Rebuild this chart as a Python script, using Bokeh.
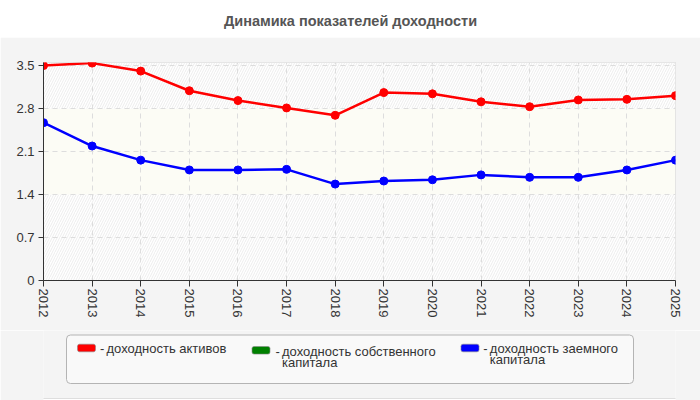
from bokeh.plotting import figure
from bokeh.layouts import column
from bokeh.models import Range1d, FixedTicker, BoxAnnotation
from bokeh.core.properties import value
from bokeh.embed import file_html
from bokeh.resources import INLINE

# --- data -------------------------------------------------------------
years = [2012, 2013, 2014, 2015, 2016, 2017, 2018,
         2019, 2020, 2021, 2022, 2023, 2024, 2025]
return_on_assets = [3.50, 3.54, 3.41, 3.09, 2.93, 2.81, 2.69,
                    3.06, 3.04, 2.91, 2.83, 2.94, 2.95, 3.01]
return_on_equity = []          # no values reported for this series
return_on_debt = [2.57, 2.19, 1.96, 1.80, 1.80, 1.81, 1.57,
                  1.62, 1.64, 1.72, 1.68, 1.68, 1.80, 1.96]

y_ticks = [0, 0.7, 1.4, 2.1, 2.8, 3.5]
y_tick_labels = ["0", "0.7", "1.4", "2.1", "2.8", "3.5"]
x_tick_labels = [str(y) for y in years]

title_text = "Динамика показателей доходности"
series_names = ["доходность активов",
                "доходность собственного\nкапитала",
                "доходность заемного\nкапитала"]
series_colors = ["#ff0000", "#008000", "#0000ff"]

FONT_NAME = "Liberation Sans"
FONT = value(FONT_NAME)
PANEL = "#f4f4f4"

# all three stacked figures share the same side borders so their frames line up
SIDE = dict(min_border_left=43, min_border_right=25)


def plain_figure(height, y_top, y_bottom, fill):
    f = figure(width=700, height=height,
               x_range=Range1d(43, 675), y_range=Range1d(y_bottom, y_top),
               x_axis_type=None, y_axis_type=None,
               min_border_top=0, min_border_bottom=0, **SIDE,
               output_backend="svg", toolbar_location=None,
               background_fill_color=fill, border_fill_color=fill,
               outline_line_color=None)
    f.grid.visible = False
    return f


# --- header with the title ------------------------------------------
head = plain_figure(37, 0, 37, "white")
head.text(x=[350], y=[20.5], text=[title_text], text_font=FONT,
          text_font_style="bold", text_font_size="14.5px", text_color="#555555",
          text_align="center", text_baseline="middle")

# --- main chart -----------------------------------------------------
p = figure(width=700, height=293,
           x_range=Range1d(years[0], years[-1]), y_range=Range1d(0, 3.55),
           output_backend="svg", toolbar_location=None,
           min_border_top=25, min_border_bottom=50, **SIDE,
           background_fill_color="white", border_fill_color=PANEL,
           outline_line_color="#dcdcdc")

# background bands: hatched / plain / hatched
hatch = dict(fill_color="white", fill_alpha=1.0, hatch_pattern="/",
             hatch_color="#ededed", hatch_scale=5, hatch_weight=1,
             line_color=None, level="image")
p.add_layout(BoxAnnotation(bottom=y_ticks[0], top=y_ticks[2], **hatch))
p.add_layout(BoxAnnotation(bottom=y_ticks[2], top=y_ticks[4], fill_color="#fcfcf5",
                           fill_alpha=1.0, line_color=None, level="image"))
p.add_layout(BoxAnnotation(bottom=y_ticks[4], **hatch))

for vals, color in ((return_on_assets, series_colors[0]),
                    (return_on_equity, series_colors[1]),
                    (return_on_debt, series_colors[2])):
    if not vals:
        continue
    p.line(years, vals, line_color=color, line_width=2.5)
    p.scatter(years, vals, size=8, fill_color=color, line_color=color)

p.xaxis.ticker = FixedTicker(ticks=years)
p.xaxis.major_label_overrides = dict(zip(years, x_tick_labels))
p.xaxis.major_label_orientation = "vertical"
p.yaxis.ticker = FixedTicker(ticks=y_ticks)
p.yaxis.major_label_overrides = dict(zip(y_ticks, y_tick_labels))

for ax in (p.xaxis[0], p.yaxis[0]):
    ax.axis_line_color = "#333333"
    ax.major_tick_line_color = "#333333"
    ax.major_tick_in = 0
    ax.major_tick_out = 6
    ax.minor_tick_line_color = None
    ax.major_label_text_font = FONT_NAME
    ax.major_label_text_font_size = "13px"
    ax.major_label_text_color = "#333333"
p.yaxis.major_tick_out = 5
p.yaxis.major_label_standoff = 4
p.xaxis.major_label_standoff = 2

p.grid.grid_line_color = "#dddddd"
p.grid.grid_line_dash = "5 4"
p.grid.grid_line_width = 1

# --- legend panel ---------------------------------------------------
lg = plain_figure(70, 330, 400, PANEL)
lg.quad(left=[66], right=[633], top=[334.5], bottom=[383],
        fill_color="#f9f9f9", line_color="#b4b4b4", border_radius=4)
lg.quad(left=[0], right=[700], top=[398], bottom=[401],
        fill_color="white", line_color="#dedede")

swatch_left = [77, 251.5, 460.5]
swatch_top = [343.7, 346, 343.7]
text_left = [106, 281.5, 489.3]
first_baseline = [347.5, 350.6, 347.5]
LINE_STEP = 11.8
for name, color, sx, sy, tx, by in zip(series_names, series_colors, swatch_left,
                                       swatch_top, text_left, first_baseline):
    lg.quad(left=[sx], right=[sx + 18], top=[sy], bottom=[sy + 7.6],
            fill_color=color, line_color="#8a8a8a", line_alpha=0.6,
            border_radius=2)
    lg.text(x=[tx - 6.5], y=[by], text=["-"], text_font=FONT,
            text_font_size="13px", text_color="#333333",
            text_align="left", text_baseline="alphabetic")
    for i, line in enumerate(name.split("\n")):
        lg.text(x=[tx], y=[by + i * LINE_STEP], text=[line], text_font=FONT,
                text_font_size="13px", text_color="#333333",
                text_align="left", text_baseline="alphabetic")

layout = column(head, p, lg, spacing=0)
open("out.html", "w").write(file_html(layout, INLINE))
